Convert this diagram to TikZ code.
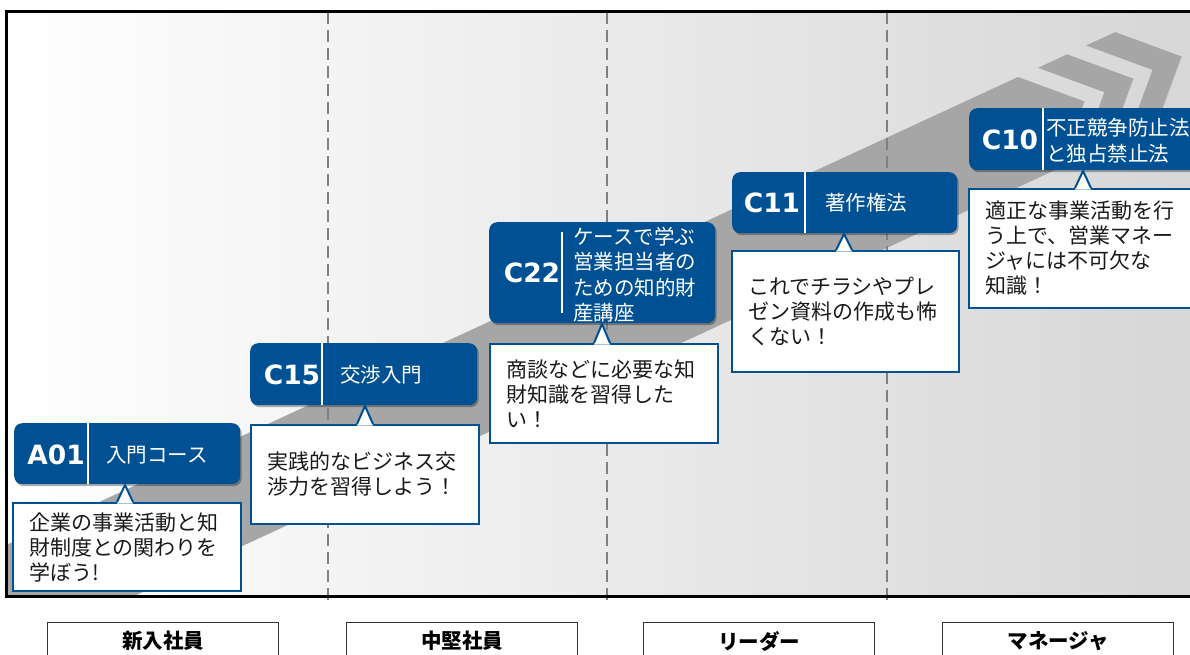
\documentclass[tikz,border=0pt]{standalone}
\usepackage{fontspec}
\setmainfont{Noto Sans CJK JP}
\newfontfamily\codefont{DejaVu Sans}
\usetikzlibrary{shadows}
\definecolor{boxblue}{RGB}{0,81,147}
\definecolor{bandgray}{RGB}{166,166,166}
\definecolor{dashgray}{RGB}{128,128,128}
\definecolor{textdark}{RGB}{26,26,26}
\tikzset{
 coursebox/.style={fill=boxblue, rounded corners=8pt, anchor=north west, inner sep=0pt, draw=none,
   drop shadow={shadow xshift=1.5pt, shadow yshift=-2pt, opacity=0.3, fill=black}},
 codetext/.style={text=white, font=\codefont\bfseries\fontsize{26.5}{26.5}\selectfont, inner sep=0pt},
 titletext/.style={text=white, font=\fontsize{20.5}{25.5}\selectfont, anchor=west, align=left, inner sep=0pt},
 sepline/.style={draw=white, line width=1.2pt},
 bubble/.style={draw=boxblue, line width=2pt, fill=white, anchor=north west, inner xsep=16pt, inner ysep=0pt, align=left, text=textdark, font=\fontsize{21}{25}\selectfont},
 pointerline/.style={draw=boxblue, line width=2pt, line join=miter},
 phasebox/.style={draw=black!80, line width=1.2pt, fill=white, anchor=north west, minimum width=231pt, minimum height=37pt, inner sep=0pt, font=\bfseries\fontsize{20.5}{24}\selectfont},
 stageline/.style={draw=dashgray, line width=2.9pt, dash pattern=on 11.5pt off 6.5pt},
}
\begin{document}
\begin{tikzpicture}[x=1pt,y=-1pt]
\useasboundingbox (0,0) rectangle (1190,654);
% background
\shade[left color=white, right color=gray!32] (6,11) rectangle (1200,596);
\begin{scope}
\clip (6,11) rectangle (1200,596);
\fill[bandgray] (-71.6,581) -- (1018,77) -- (1084.4,101.4) -- (1060,167.8) -- (-29.6,671.8) -- cycle;
\fill[bandgray] (1038.0,67.8) -- (1067.0,54.3) -- (1133.4,78.7) -- (1109,145.1) -- (1080,158.6) -- (1104.4,92.2) -- cycle;
\fill[bandgray] (1086.1,45.5) -- (1115.2,32.1) -- (1181.6,56.5) -- (1157.2,122.9) -- (1128.1,136.3) -- (1152.5,69.9) -- cycle;
\end{scope}
\foreach \x in {328,607,887} {\draw[stageline] (\x,12) -- (\x,600);}
\draw[line width=3pt] (1200,11) -- (6,11) -- (6,596) -- (1200,596);

% A01
\node[coursebox, minimum width=226pt, minimum height=61pt] (a01) at (14,423) {};
\draw[sepline] (88,423) -- (88,484);
\node[codetext] (a01code) at (56,455) {A01};
\node[titletext] (a01title) at (106,455) {入門コース};
\node[bubble, text width=196pt, minimum height=88pt] (a01bub) at (12,502) {企業の事業活動と知\\財制度との関わりを\\学ぼう!};
\coordinate (a01tip) at (125,485);
\fill[white] (a01tip) ++(-8,18.5) -- (a01tip) -- ++(8,18.5) -- cycle;
\draw[pointerline] (a01tip) ++(-8,17) -- (a01tip) -- ++(8,17);

% C15
\node[coursebox, minimum width=227pt, minimum height=62pt] (c15) at (250,343) {};
\draw[sepline] (322,343) -- (322,405);
\node[codetext] (c15code) at (292,375) {C15};
\node[titletext] (c15title) at (340,375) {交渉入門};
\node[bubble, text width=196pt, minimum height=99pt] (c15bub) at (250,424) {実践的なビジネス交\\渉力を習得しよう！};
\coordinate (c15tip) at (365,406);
\fill[white] (c15tip) ++(-8,19.5) -- (c15tip) -- ++(8,19.5) -- cycle;
\draw[pointerline] (c15tip) ++(-8,18) -- (c15tip) -- ++(8,18);

% C22
\node[coursebox, minimum width=226pt, minimum height=101pt] (c22) at (489,222) {};
\draw[sepline] (562,232) -- (562,313);
\node[codetext] (c22code) at (532,273) {C22};
\node[titletext] (c22title) at (573,274.5) {ケースで学ぶ\\営業担当者の\\ための知的財\\産講座};
\node[bubble, text width=196pt, minimum height=99pt] (c22bub) at (489,343) {商談などに必要な知\\財知識を習得した\\い！};
\coordinate (c22tip) at (602,324);
\fill[white] (c22tip) ++(-8,20.5) -- (c22tip) -- ++(8,20.5) -- cycle;
\draw[pointerline] (c22tip) ++(-8,19) -- (c22tip) -- ++(8,19);

% C11
\node[coursebox, minimum width=225pt, minimum height=61pt] (c11) at (732,172) {};
\draw[sepline] (805,172) -- (805,233);
\node[codetext] (c11code) at (772,203) {C11};
\node[titletext] (c11title) at (825,203) {著作権法};
\node[bubble, text width=195pt, minimum height=121pt] (c11bub) at (731,250) {これでチラシやプレ\\ゼン資料の作成も怖\\くない！};
\coordinate (c11tip) at (844,234);
\fill[white] (c11tip) ++(-8,17.5) -- (c11tip) -- ++(8,17.5) -- cycle;
\draw[pointerline] (c11tip) ++(-8,16) -- (c11tip) -- ++(8,16);

% C10
\node[coursebox, minimum width=240pt, minimum height=62pt] (c10) at (969,108) {};
\draw[sepline] (1043,108) -- (1043,170);
\node[codetext] (c10code) at (1010,140) {C10};
\node[titletext, font=\fontsize{20.5}{26}\selectfont] (c10title) at (1046,141) {不正競争防止法\\と独占禁止法};
\node[bubble, text width=208pt, minimum height=119pt] (c10bub) at (968,188) {適正な事業活動を行\\う上で、営業マネー\\ジャには不可欠な\\知識！};
\coordinate (c10tip) at (1083,171);
\fill[white] (c10tip) ++(-8,18.5) -- (c10tip) -- ++(8,18.5) -- cycle;
\draw[pointerline] (c10tip) ++(-8,17) -- (c10tip) -- ++(8,17);

% phases
\node[phasebox] (p1) at (47,622) {新入社員};
\node[phasebox] (p2) at (346,622) {中堅社員};
\node[phasebox] (p3) at (643,622) {リーダー};
\node[phasebox] (p4) at (942,622) {マネージャ};
\end{tikzpicture}
\end{document}
